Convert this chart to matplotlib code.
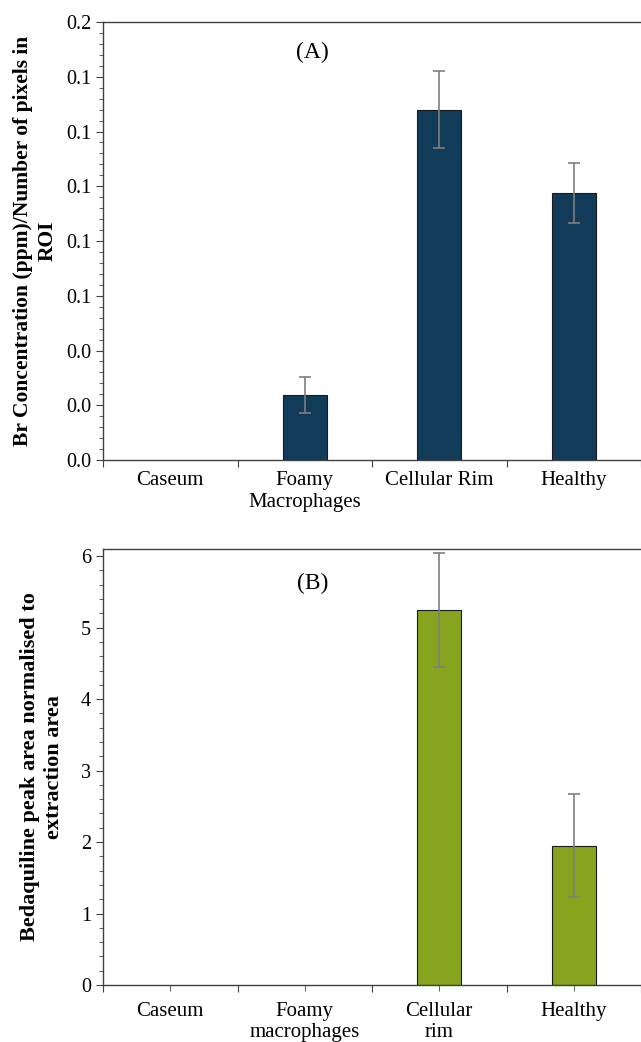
import numpy as np
import matplotlib
matplotlib.use('Agg')
import matplotlib.pyplot as plt
from matplotlib.ticker import MultipleLocator, FormatStrFormatter, FixedLocator

# Data
cats_a = ['Caseum', 'Foamy\nMacrophages', 'Cellular Rim', 'Healthy']
vals_a = [0.0, 0.0237, 0.128, 0.0975]
err_a = [0.0, 0.0066, 0.014, 0.011]

cats_b = ['Caseum', 'Foamy\nmacrophages', 'Cellular\nrim', 'Healthy']
vals_b = [0.0, 0.0, 5.25, 1.95]
err_b = [0.0, 0.0, 0.80, 0.72]

plt.rcParams['font.family'] = 'Liberation Serif'

fig = plt.figure(figsize=(6.41, 10.42), dpi=100)
ax1 = fig.add_axes([0.1607, 0.5585, 0.8393, 0.4204])
ax2 = fig.add_axes([0.1607, 0.0547, 0.8393, 0.4184])

spine_col = '#404040'


def style(ax, cats, vals, errs, color, center_ticks):
    x = np.arange(len(cats))
    vals = np.asarray(vals)
    errs = np.asarray(errs)
    lw = [0.8 if v > 0 else 0 for v in vals]
    ax.bar(x, vals, width=0.33, color=color, edgecolor='#1a1a1a', linewidth=lw, zorder=2)
    # error bars only where there is a bar
    has = vals > 0
    ax.errorbar(x[has], vals[has], yerr=errs[has], fmt='none', ecolor='#7f7f7f',
                elinewidth=1.2, capsize=4, capthick=1.2, zorder=3)
    ax.set_xlim(-0.5, len(cats) - 0.5)
    for s in ['left', 'bottom', 'top']:
        ax.spines[s].set_color(spine_col)
        ax.spines[s].set_linewidth(1.0)
    ax.spines['right'].set_visible(False)
    bounds = list(np.arange(len(cats) + 1) - 0.5)
    ax.xaxis.set_major_locator(FixedLocator(bounds))
    ax.xaxis.set_major_formatter(plt.NullFormatter())
    ax.xaxis.set_minor_locator(FixedLocator(list(x)))
    ax.set_xticklabels(cats, minor=True)
    ax.tick_params(axis='x', which='major', length=5, color=spine_col)
    ax.tick_params(axis='x', which='minor', length=4 if center_ticks else 0,
                   labelsize=15, pad=8, color=spine_col)
    ax.tick_params(axis='y', which='major', length=5, labelsize=14.5, color=spine_col)
    ax.tick_params(axis='y', which='minor', length=3, color=spine_col)


style(ax1, cats_a, vals_a, err_a, '#113b58', False)
ax1.set_ylim(0, 0.16)
ax1.yaxis.set_major_locator(MultipleLocator(0.02))
ax1.yaxis.set_minor_locator(MultipleLocator(0.004))
ax1.yaxis.set_major_formatter(FormatStrFormatter('%.1f'))
ax1.set_ylabel('Br Concentration (ppm)/Number of pixels in\nROI', fontsize=15.5,
               fontweight='bold', linespacing=1.3, labelpad=6)
ax1.text(0.39, 0.93, '(A)', transform=ax1.transAxes, fontsize=17, ha='center', va='center')

style(ax2, cats_b, vals_b, err_b, '#86a41e', True)
ax2.set_ylim(0, 6.1)
ax2.yaxis.set_major_locator(MultipleLocator(1))
ax2.yaxis.set_minor_locator(MultipleLocator(0.2))
ax2.set_ylabel('Bedaquiline peak area normalised to\nextraction area', fontsize=16,
               fontweight='bold', linespacing=1.3, labelpad=12)
ax2.text(0.39, 0.92, '(B)', transform=ax2.transAxes, fontsize=17, ha='center', va='center')

fig.savefig('out.png', dpi=100)
